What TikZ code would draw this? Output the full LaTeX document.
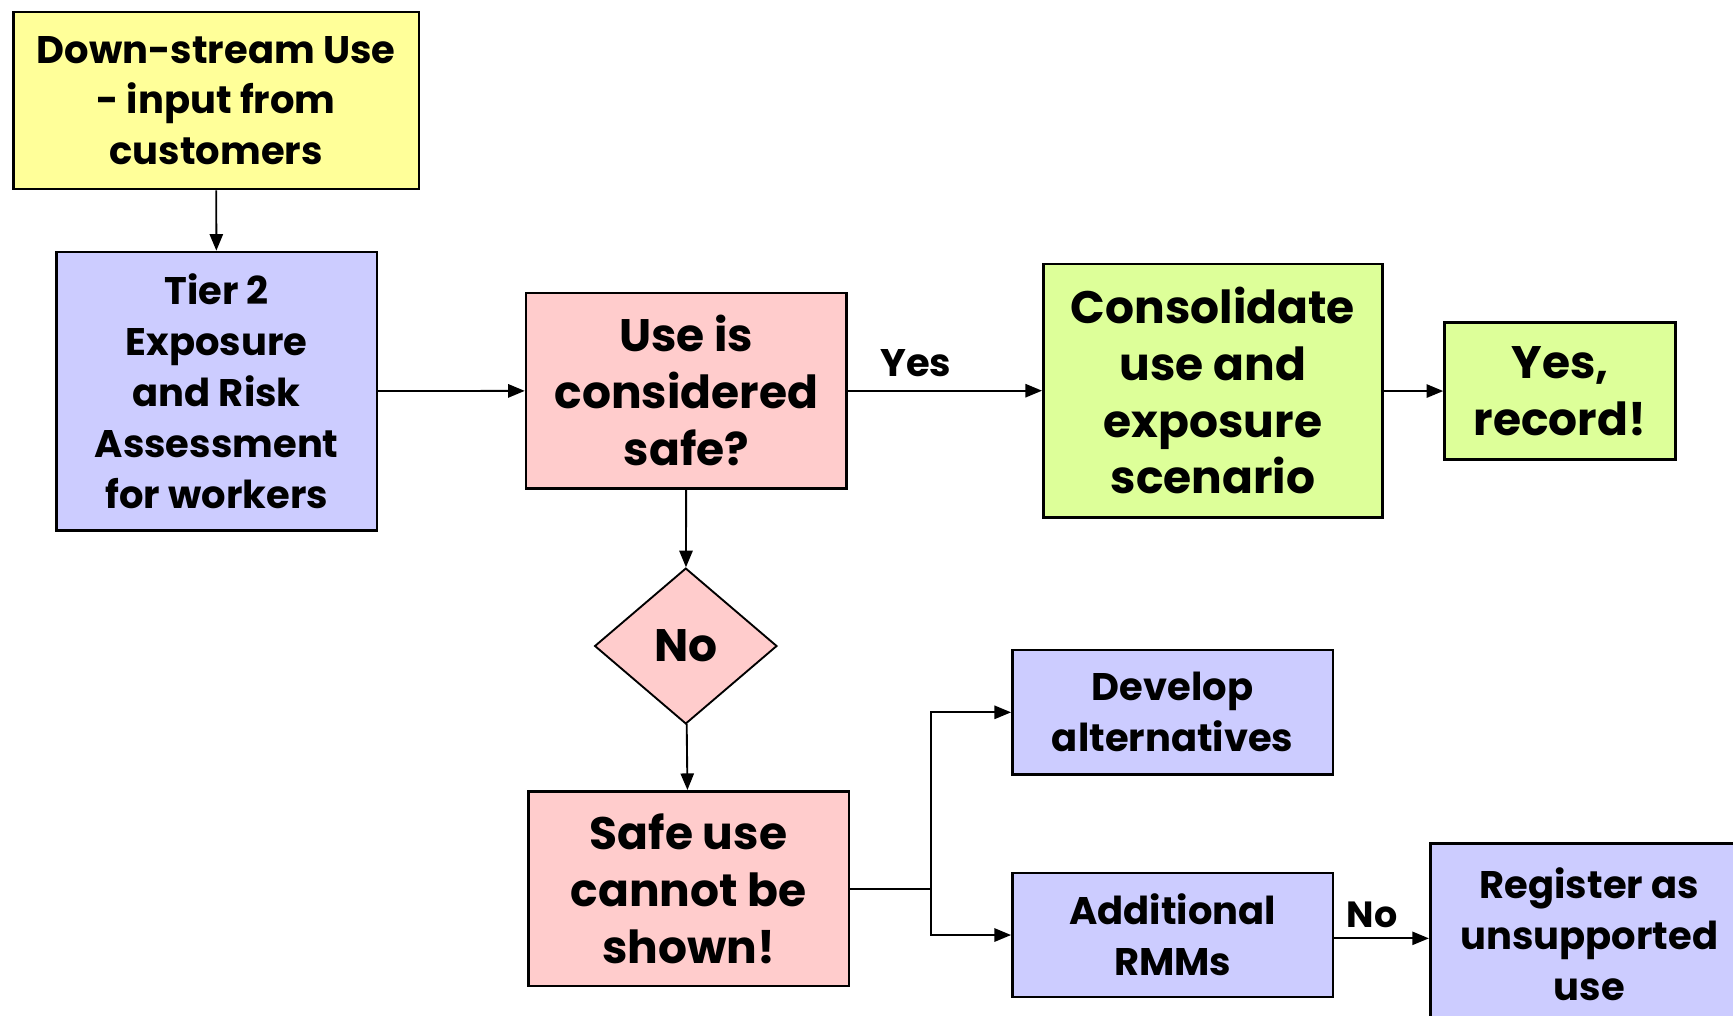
\documentclass[tikz,border=0pt]{standalone}
\usepackage{fontspec}
\setmainfont{Poppins}
\usetikzlibrary{arrows.meta,shapes.geometric}
\definecolor{cyellow}{HTML}{FFFF99}
\definecolor{cblue}{HTML}{CCCCFF}
\definecolor{cpink}{HTML}{FFCCCC}
\definecolor{cgreen}{HTML}{DDFF99}
\tikzset{
  box/.style={draw, line width=1.2pt, inner sep=0pt, align=center,
    font=\bfseries\fontsize{17.4}{23}\selectfont},
  bigbox/.style={box, font=\bfseries\fontsize{20.6}{25.7}\selectfont},
  arr/.style={line width=0.85pt, -{Triangle[length=7.5pt,width=6pt]}},
  lbl/.style={font=\bfseries\fontsize{17.4}{20}\selectfont, inner sep=0pt},
}
\begin{document}
\begin{tikzpicture}[x=0.5pt, y=-0.5pt]
\useasboundingbox (0,0) rectangle (1568,919);
\clip (0,0) rectangle (1568,919);

% boxes
\node[box, fill=cyellow, minimum width=183.5pt, minimum height=80pt] (input) at (195.5,91)
  {Down-stream Use\\- input from\\customers};
\node[box, fill=cblue, minimum width=145pt, minimum height=126pt] (tier) at (196,354)
  {Tier 2\\Exposure\\and Risk\\Assessment\\for workers};
\node[bigbox, fill=cpink, minimum width=145pt, minimum height=88.5pt] (safe) at (621,353.5)
  {Use is\\considered\\safe?};
\node[bigbox, fill=cgreen, minimum width=153.5pt, minimum height=114.5pt] (cons) at (1097.5,353.5)
  {Consolidate\\use and\\exposure\\scenario};
\node[bigbox, fill=cgreen, minimum width=104.5pt, minimum height=62pt] (rec) at (1411.5,354)
  {Yes,\\record!};
\node[bigbox, diamond, fill=cpink, line width=0.85pt, minimum width=82.5pt, minimum height=70.5pt] (no) at (620.5,584.5)
  {No};
\node[bigbox, fill=cpink, minimum width=145pt, minimum height=88pt] (notsafe) at (623,804)
  {Safe use\\cannot be\\shown!};
\node[box, fill=cblue, minimum width=145pt, minimum height=56.5pt] (alt) at (1061,644.5)
  {Develop\\alternatives};
\node[box, fill=cblue, minimum width=145pt, minimum height=56pt] (rmm) at (1061,846)
  {Additional\\RMMs};
\node[box, fill=cblue, minimum width=144pt, minimum height=82pt] (reg) at (1438,845)
  {Register as\\unsupported\\use};

% connectors
\draw[arr] (input) -- (tier);
\draw[arr] (tier) -- (safe);
\draw[arr] (safe) -- node[lbl, pos=0.35, above=6pt] (yes) {Yes} (cons);
\draw[arr] (cons) -- (rec);
\draw[arr] (safe) -- (no);
\draw[arr] (no) -- (notsafe);
\coordinate (split) at (842,804);
\draw[line width=0.85pt] (notsafe.east) -- (split);
\draw[arr] (split) |- (alt.west);
\draw[arr] (split) |- (rmm.west);
\draw[arr] ([yshift=-1.5pt]rmm.east) -- node[lbl, pos=0.4, above=4.5pt, font=\bfseries\fontsize{16.5}{19}\selectfont] (nolbl) {No} ([yshift=-1.5pt]rmm.east -| reg.west);
\end{tikzpicture}
\end{document}
